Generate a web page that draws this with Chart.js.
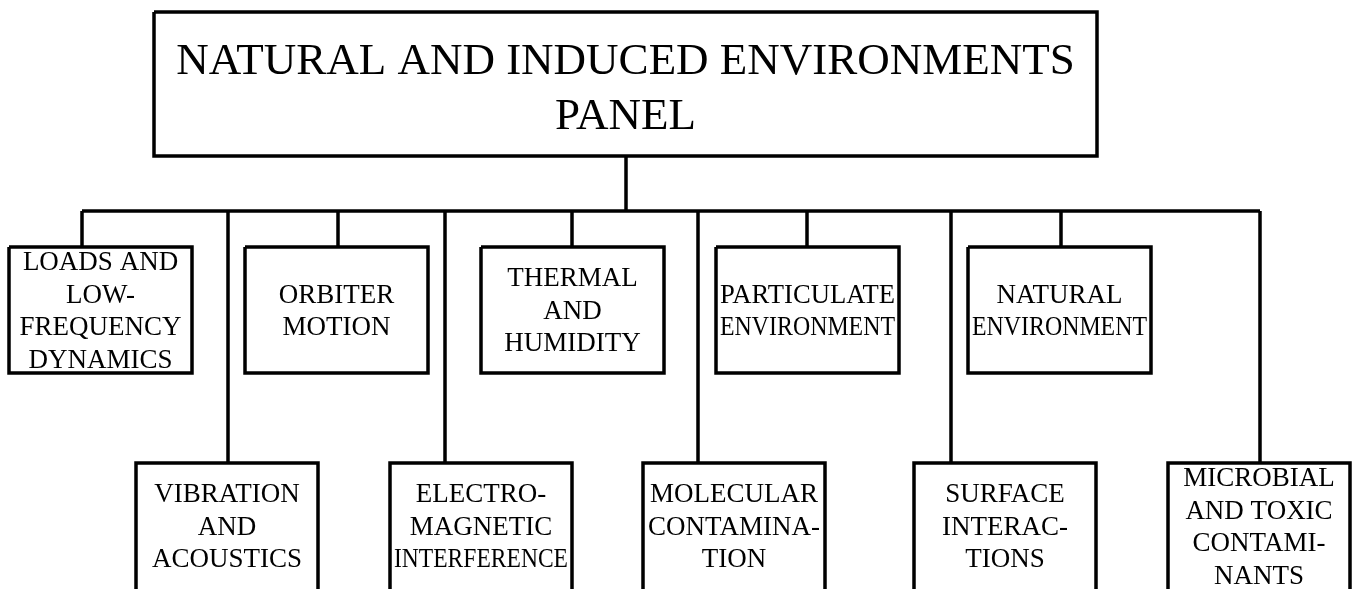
<!DOCTYPE html>
<html>
<head>
<meta charset="utf-8">
<title>Natural and Induced Environments Panel</title>
<script src="https://cdn.jsdelivr.net/npm/chart.js@4.4.1/dist/chart.umd.min.js"></script>
<style>
  html, body { margin: 0; padding: 0; background: #fff; }
  #wrap { width: 1355px; height: 589px; }
</style>
</head>
<body>
<div id="wrap"><canvas id="orgChart" width="1355" height="589"></canvas></div>
<script>
// Chart content
const panelTitle = ['NATURAL AND INDUCED ENVIRONMENTS', 'PANEL'];
const upperRow = [
    ['LOADS AND', 'LOW-', 'FREQUENCY', 'DYNAMICS'],
    ['ORBITER', 'MOTION'],
    ['THERMAL', 'AND', 'HUMIDITY'],
    ['PARTICULATE', 'ENVIRONMENT'],
    ['NATURAL', 'ENVIRONMENT']
];
const lowerRow = [
    ['VIBRATION', 'AND', 'ACOUSTICS'],
    ['ELECTRO-', 'MAGNETIC', 'INTERFERENCE'],
    ['MOLECULAR', 'CONTAMINA-', 'TION'],
    ['SURFACE', 'INTERAC-', 'TIONS'],
    ['MICROBIAL', 'AND TOXIC', 'CONTAMI-', 'NANTS']
];

// Layout (in chart units, y grows downward)
const titleBox = { left: 154, right: 1097, top: 12, bottom: 156 };
const busY = 211;
const stemX = 626;
const upperLeft = [9, 245, 481, 716, 968];
const upperLink = [82, 338, 572, 807, 1061];
const upperTop = 247, upperBottom = 373, upperWidth = 183;
const lowerLeft = [136, 390, 643, 914, 1168];
const lowerLink = [228, 445, 698, 951, 1260];
const lowerTop = 463, lowerBottom = 600, lowerWidth = 182;

const INK = '#000';
const LINE_W = 3.5;

function seg(points) {
    return {
        type: 'line',
        data: points.map(p => ({ x: p[0], y: p[1] })),
        borderColor: INK,
        borderWidth: LINE_W,
        pointRadius: 0,
        fill: false,
        tension: 0,
        showLine: true
    };
}

// Build line datasets
const datasets = [];
const tb = titleBox;
datasets.push(seg([[tb.left, tb.top], [tb.right, tb.top], [tb.right, tb.bottom], [tb.left, tb.bottom], [tb.left, tb.top]]));
datasets.push(seg([[stemX, tb.bottom], [stemX, busY]]));
datasets.push(seg([[upperLink[0], busY], [lowerLink[lowerLink.length - 1], busY]]));

upperLeft.forEach((l, i) => {
    const r = l + upperWidth;
    datasets.push(seg([[upperLink[i], busY], [upperLink[i], upperTop]]));
    datasets.push(seg([[l, upperTop], [r, upperTop], [r, upperBottom], [l, upperBottom], [l, upperTop]]));
});
lowerLeft.forEach((l, i) => {
    const r = l + lowerWidth;
    datasets.push(seg([[lowerLink[i], busY], [lowerLink[i], lowerTop]]));
    datasets.push(seg([[l, lowerBottom], [l, lowerTop], [r, lowerTop], [r, lowerBottom]]));
});

// Text inside the boxes
const boxText = {
    id: 'boxText',
    afterDatasetsDraw(chart) {
        const ctx = chart.ctx;
        const xs = chart.scales.x, ys = chart.scales.y;
        function block(lines, left, right, cy, size, lh) {
            const cx = xs.getPixelForValue((left + right) / 2);
            const maxW = Math.abs(xs.getPixelForValue(right) - xs.getPixelForValue(left)) - 8;
            const c = ys.getPixelForValue(cy);
            const first = c - (lines.length - 1) / 2 * lh + size * 0.662 / 2;
            ctx.font = size + 'px "Liberation Serif", "Times New Roman", serif';
            lines.forEach((t, k) => {
                ctx.fillText(t, cx, first + k * lh, maxW);
            });
        }
        ctx.save();
        ctx.fillStyle = INK;
        ctx.textAlign = 'center';
        ctx.textBaseline = 'alphabetic';
        block(panelTitle, tb.left, tb.right, 86.5, 45, 55);
        upperRow.forEach((lines, i) => {
            block(lines, upperLeft[i], upperLeft[i] + upperWidth, (upperTop + upperBottom) / 2, 27, 32.5);
        });
        lowerRow.forEach((lines, i) => {
            block(lines, lowerLeft[i], lowerLeft[i] + lowerWidth, 526, 27, 32.5);
        });
        ctx.restore();
    }
};

const whiteBg = {
    id: 'whiteBg',
    beforeDraw(chart) {
        const ctx = chart.ctx;
        ctx.save();
        ctx.fillStyle = '#fff';
        ctx.fillRect(0, 0, chart.width, chart.height);
        ctx.restore();
    }
};

const orgChart = new Chart(document.getElementById('orgChart').getContext('2d'), {
    type: 'scatter',
    data: { datasets: datasets },
    options: {
        responsive: false,
        animation: false,
        events: [],
        layout: { padding: 0 },
        plugins: {
            legend: { display: false },
            tooltip: { enabled: false }
        },
        scales: {
            x: { type: 'linear', min: 0, max: 1355, display: false },
            y: { type: 'linear', min: 0, max: 589, reverse: true, display: false }
        }
    },
    plugins: [whiteBg, boxText]
});
</script>
</body>
</html>
